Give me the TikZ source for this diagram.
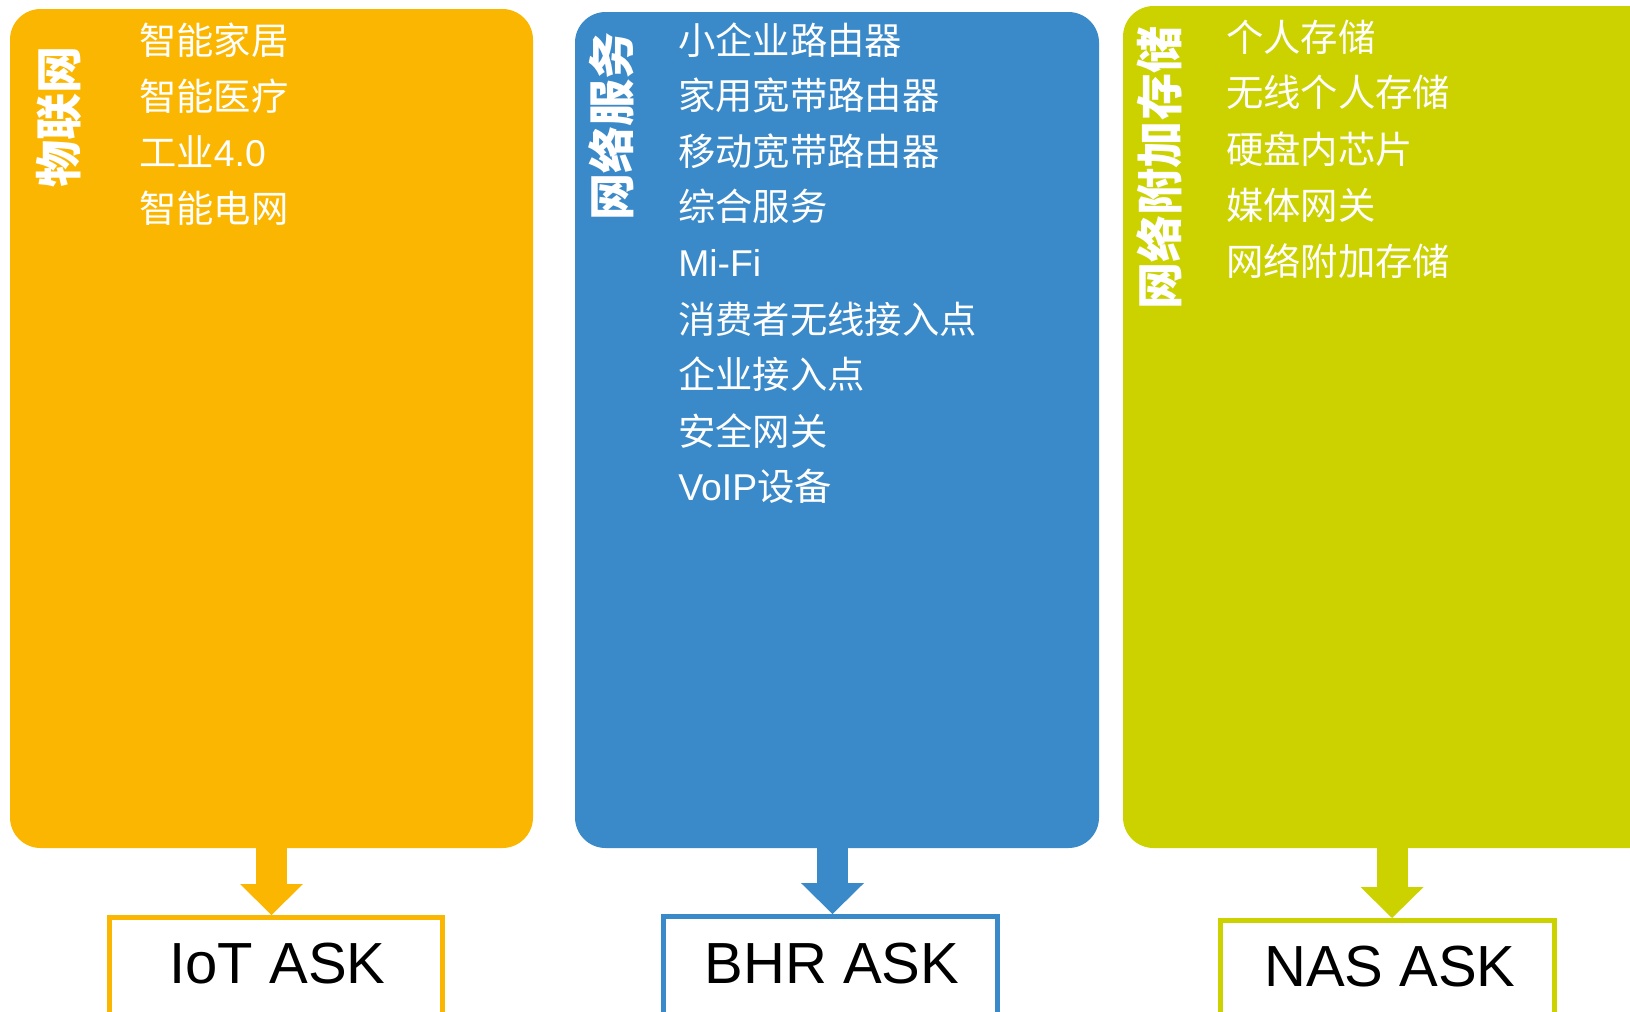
\documentclass[tikz,border=0pt]{standalone}
\usepackage{fontspec}
\setmainfont{Liberation Sans}
\newfontfamily\cjk{Noto Sans CJK SC}
\usetikzlibrary{arrows.meta}
\definecolor{cO}{RGB}{250,182,0}
\definecolor{cB}{RGB}{58,137,201}
\definecolor{cG}{RGB}{203,210,0}
\tikzset{
  panel/.style={fill=#1, draw=none, rounded corners=23pt, inner sep=0pt, outer sep=0pt},
  item/.style={anchor=west, inner sep=0pt, text=white,
    font=\cjk\fontsize{28}{30}\selectfont, text height=24.6pt, text depth=3.4pt},
  title/.style={rotate=90, inner sep=0pt, text=white,
    font=\cjk\bfseries\fontsize{35.3}{38}\selectfont, text height=31pt, text depth=4.2pt},
  askbox/.style={draw=#1, line width=3.75pt, fill=white, inner sep=0pt, minimum width=250pt},
  asktext/.style={inner sep=0pt, text=black, font=\fontsize{43.5}{46}\selectfont,
    text height=31.1pt, text depth=0pt},
  arr/.style={draw=#1, line width=23.25pt,
    -{Triangle[width=47.25pt, length=23.25pt, line width=0pt]}}
}
\begin{document}
\begin{tikzpicture}[x=0.75pt, y=-0.75pt]
\useasboundingbox (0,0) rectangle (1630,1011);
\clip (0,0) rectangle (1630,1011);

% panels
\node[panel=cO, minimum width=392.25pt, minimum height=629.25pt] (iot) at (271.5,428.5) {};
\node[panel=cB, minimum width=393pt, minimum height=627pt] (bhr) at (837,430) {};
\node[panel=cG, minimum width=402.75pt, minimum height=631.5pt] (nas) at (1391.5,427) {};

% titles
\node[title] (tiot) at (59,117) {物联网};
\node[title] (tbhr) at (612,126.5) {网络服务};
\node[title] (tnas) at (1159.5,168) {网络附加存储};

% IoT items
\node[item] (o1) at (139,40) {智能家居};
\node[item] (o2) at (139,96) {智能医疗};
\node[item] (o3) at (139,152) {工业{\rmfamily 4.0}};
\node[item] (o4) at (139,208) {智能电网};

% BHR items
\node[item] (b1) at (678,40) {小企业路由器};
\node[item] (b2) at (678,95) {家用宽带路由器};
\node[item] (b3) at (678,151) {移动宽带路由器};
\node[item] (b4) at (678,206) {综合服务};
\node[item] (b5) at (678,262) {\rmfamily Mi-Fi};
\node[item] (b6) at (678,319) {消费者无线接入点};
\node[item] (b7) at (678,374) {企业接入点};
\node[item] (b8) at (678,431) {安全网关};
\node[item] (b9) at (678,486) {{\rmfamily VoIP}设备};

% NAS items
\node[item] (g1) at (1226,37.5) {个人存储};
\node[item] (g2) at (1226,92.5) {无线个人存储};
\node[item] (g3) at (1226,149) {硬盘内芯片};
\node[item] (g4) at (1226,205) {媒体网关};
\node[item] (g5) at (1226,261) {网络附加存储};

% ASK boxes
\node[askbox=cO, minimum height=91.9pt] (iotask) at (276,978.75) {};
\node[askbox=cB, minimum height=92.6pt] (bhrask) at (830.5,978.25) {};
\node[askbox=cG, minimum height=89.6pt] (nasask) at (1387.5,980.25) {};
\node[asktext] (liot) at (277.5,963) {IoT ASK};
\node[asktext] (lbhr) at (832,962.5) {BHR ASK};
\node[asktext] (lnas) at (1390,966) {NAS ASK};

% arrows
\draw[arr=cO] (iot.south) -- (iot.south |- iotask.north);
\draw[arr=cB] ([xshift=1.5pt]bhrask.north |- bhr.south) -- ([xshift=1.5pt]bhrask.north);
\draw[arr=cG] ([xshift=3.4pt]nasask.north |- nas.south) -- ([xshift=3.4pt]nasask.north);
\end{tikzpicture}
\end{document}
